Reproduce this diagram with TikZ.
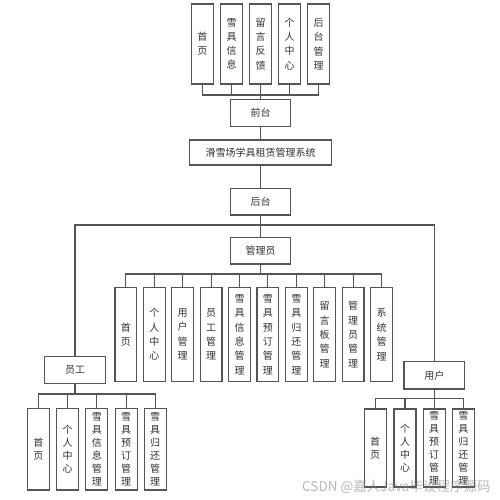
\documentclass[tikz,border=0pt]{standalone}
\usepackage{fontspec}
\newfontfamily\cjk{Noto Sans CJK SC}
\definecolor{ln}{HTML}{555555}
\definecolor{tx}{HTML}{333333}
\tikzset{
  box/.style={draw=ln, line width=1.2pt, fill=white, text=tx, inner sep=0pt, align=center,
    font=\cjk\fontsize{10}{14.2}\selectfont},
  hbox/.style={box, minimum height=26.5pt},
  vbox/.style={box, minimum width=21.7pt},
  sbox/.style={vbox, minimum width=22pt, font=\cjk\fontsize{10}{13}\selectfont},
  conn/.style={draw=ln, line width=1.1pt},
}
\begin{document}
\begin{tikzpicture}[x=1pt,y=-1pt]
\useasboundingbox[fill=white] (0,0) rectangle (500,500);
% top group
\node[vbox, minimum height=80pt] (t1) at (202.3,44) {首\\页};
\node[vbox, minimum height=80pt] (t2) at (231.5,44) {雪\\具\\信\\息};
\node[vbox, minimum height=80pt] (t3) at (260.5,44) {留\\言\\反\\馈};
\node[vbox, minimum height=80pt] (t4) at (289.5,44) {个\\人\\中\\心};
\node[vbox, minimum height=80pt] (t5) at (318.7,44) {后\\台\\管\\理};
\node[hbox, minimum width=59.5pt] (qt) at (260.5,113) {前台};
\node[hbox, minimum width=142.5pt, minimum height=25pt] (sys) at (260.5,152.5) {滑雪场学具租赁管理系统};
\node[hbox, minimum width=60pt] (ht) at (260.5,201.7) {后台};
\node[hbox, minimum width=60.5pt] (gly) at (260.5,250.7) {管理员};
\node[hbox, minimum width=61.4pt] (yg) at (75,370) {员工};
\node[hbox, minimum width=60.7pt, minimum height=27.3pt] (yh) at (434.3,375.3) {用户};
% admin children
\foreach \i/\t in {0/{首\\页},1/{个\\人\\中\\心},2/{用\\户\\管\\理},3/{员\\工\\管\\理},4/{雪\\具\\信\\息\\管\\理},
  5/{雪\\具\\预\\订\\管\\理},6/{雪\\具\\归\\还\\管\\理},7/{留\\言\\板\\管\\理},8/{管\\理\\员\\管\\理},9/{系\\统\\管\\理}}{
  \node[vbox, minimum height=94.4pt, font=\cjk\fontsize{10}{14.4}\selectfont] (a\i) at (125.9+28.4*\i,334.5) {\t};
}
% employee children
\foreach \i/\x/\t in {0/38.3/{首\\页},1/67.7/{个\\人\\中\\心},2/96.8/{雪\\具\\信\\息\\管\\理},3/126.2/{雪\\具\\预\\订\\管\\理},4/155.2/{雪\\具\\归\\还\\管\\理}}{
  \node[sbox, minimum height=81.5pt] (e\i) at (\x,449.3) {\t};
}
% user children
\foreach \i/\x/\t in {0/375.2/{首\\页},1/405/{个\\人\\中\\心},2/434.2/{雪\\具\\预\\订\\管\\理},3/463.3/{雪\\具\\归\\还\\管\\理}}{
  \node[sbox, minimum height=78pt] (u\i) at (\x,448) {\t};
}
% connectors
\coordinate (tb) at (260.5,95);
\foreach \i in {1,...,5}{ \draw[conn] (t\i.south) |- (tb); }
\draw[conn] (tb) -- (qt.north);
\draw[conn] (qt.south) -- (sys.north);
\draw[conn] (sys.south) -- (ht.north);
\draw[conn] (ht.south) -- (gly.north);
\coordinate (hb) at (260.5,225);
\draw[conn] (yg.north) |- (hb) -| (yh.north);
\coordinate (ab) at (260.5,274);
\draw[conn] (gly.south) -- (ab);
\foreach \i in {0,...,9}{ \draw[conn] (ab) -| (a\i.north); }
\coordinate (eb) at (75,394);
\draw[conn] (yg.south) -- (eb);
\foreach \i in {0,...,4}{ \draw[conn] (eb) -| (e\i.north); }
\coordinate (ub) at (434.3,398.3);
\draw[conn] (yh.south) -- (ub);
\foreach \i in {0,...,3}{ \draw[conn] (ub) -| (u\i.north); }
% watermark
\node[anchor=west, inner sep=0pt, text=gray, opacity=0.55, font=\cjk\fontsize{13.5}{15}\selectfont] (wm) at (302,487) {CSDN @嘉人Java毕设程序源码};
\end{tikzpicture}
\end{document}
